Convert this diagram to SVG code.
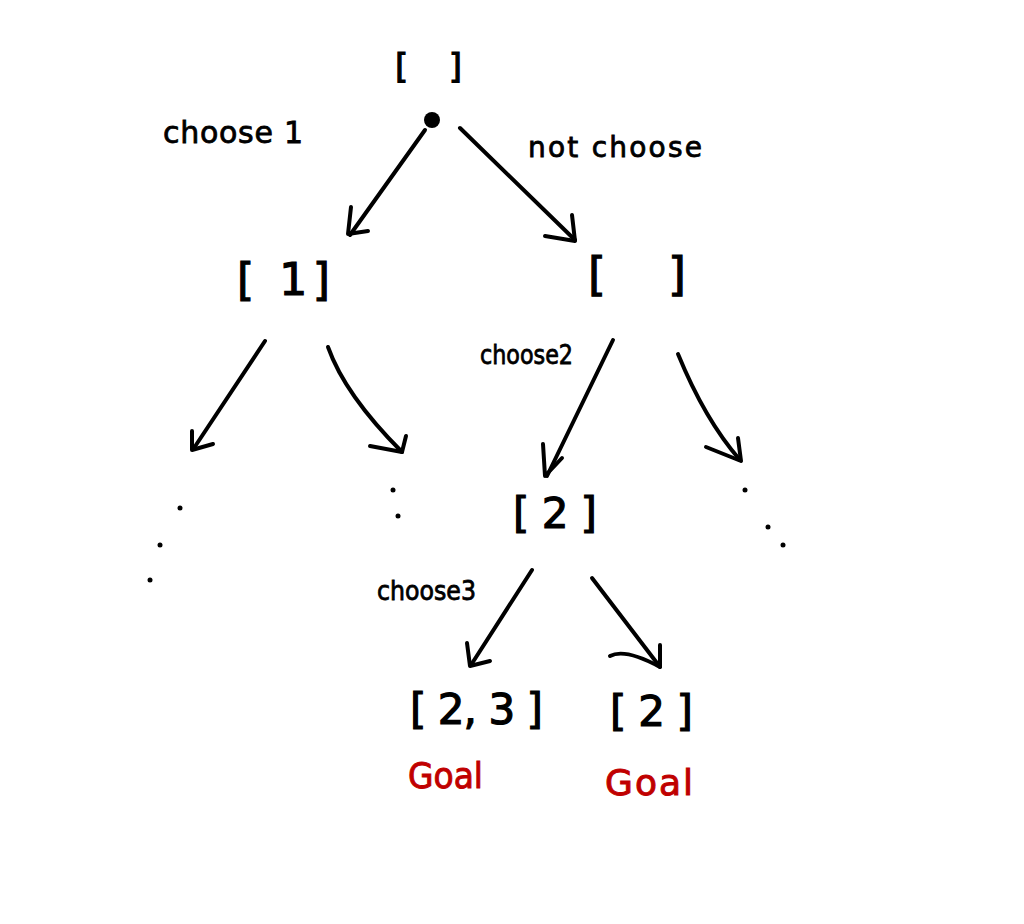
<svg xmlns="http://www.w3.org/2000/svg" width="1024" height="924" viewBox="0 0 1024 924">
<style>
.n{font-family:"DejaVu Sans","Liberation Sans",sans-serif;fill:#000;stroke:#000;stroke-width:1.2}
.lbl{font-family:"DejaVu Sans","Liberation Sans",sans-serif;fill:#000;stroke:#000;stroke-width:0.8}
.goal{font-family:"DejaVu Sans","Liberation Sans",sans-serif;fill:#c00000;stroke:#c00000;stroke-width:1}
.c{fill:none;stroke:#000;stroke-width:4;stroke-linecap:round;stroke-linejoin:round}
</style>
<rect width="1024" height="924" fill="#fff"/>
<g id="root">
<text class="n" x="395" y="78" font-size="34" textLength="67" lengthAdjust="spacing">[ ]</text>
<circle cx="432" cy="120" r="8" fill="#000"/>
</g>
<g id="node-1">
<text class="n" x="237" y="295" font-size="44" textLength="93" lengthAdjust="spacing">[ 1]</text>
</g>
<g id="node-empty">
<text class="n" x="588" y="290" font-size="46" textLength="98" lengthAdjust="spacing">[   ]</text>
</g>
<g id="node-2">
<text class="n" x="513" y="528" font-size="42" textLength="84" lengthAdjust="spacing">[ 2 ]</text>
</g>
<g id="node-2-3">
<text class="n" x="410" y="724" font-size="42" textLength="133" lengthAdjust="spacing">[ 2, 3 ]</text>
<text class="goal" x="408" y="788" font-size="36" textLength="75" lengthAdjust="spacingAndGlyphs">Goal</text>
</g>
<g id="node-2b">
<text class="n" x="610" y="726" font-size="42" textLength="83" lengthAdjust="spacing">[ 2 ]</text>
<text class="goal" x="605" y="795" font-size="36" textLength="88" lengthAdjust="spacing">Goal</text>
</g>
<g id="labels">
<text class="lbl" x="163" y="143" font-size="30" textLength="140" lengthAdjust="spacing">choose 1</text>
<text class="lbl" x="528" y="157" font-size="28" textLength="174" lengthAdjust="spacing">not choose</text>
<text class="lbl" x="480" y="364" font-size="26" textLength="93" lengthAdjust="spacingAndGlyphs">choose2</text>
<text class="lbl" x="377" y="600" font-size="26" textLength="99" lengthAdjust="spacingAndGlyphs">choose3</text>
</g>
<g id="ellipses" fill="#000">
<circle cx="180" cy="508" r="2.5"/>
<circle cx="160" cy="545" r="2.5"/>
<circle cx="150" cy="580" r="2.5"/>
<circle cx="393" cy="490" r="2.5"/>
<circle cx="398" cy="516" r="2.5"/>
<circle cx="745" cy="490" r="2.5"/>
<circle cx="768" cy="527" r="2.5"/>
<circle cx="783" cy="545" r="2.5"/>
</g>
<g id="connectors">
<path class="c" d="M425 130 L350 235"/>
<path class="c" d="M351 207 L348 234 L368 231"/>
<path class="c" d="M460 128 L575 240"/>
<path class="c" d="M545 236 L575 241 L572 215"/>
<path class="c" d="M265 341 L194 448"/>
<path class="c" d="M192 431 L192 450 L213 444"/>
<path class="c" d="M328 347 Q345 395 402 452"/>
<path class="c" d="M370 446 L402 452 L406 436"/>
<path class="c" d="M613 340 L547 476"/>
<path class="c" d="M543 444 L545 476 L562 458"/>
<path class="c" d="M678 354 Q705 420 740 460"/>
<path class="c" d="M706 447 L741 461 L738 438"/>
<path class="c" d="M532 570 L471 665"/>
<path class="c" d="M467 643 L470 666 L490 661"/>
<path class="c" d="M592 578 L660 667"/>
<path class="c" d="M610 656 Q625 648 660 667 L660 645"/>
</g>
</svg>
